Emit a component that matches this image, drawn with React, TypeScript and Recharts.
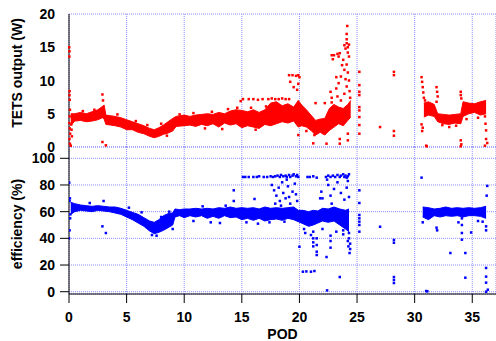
import { ComposedChart, Area, Scatter, XAxis, YAxis, CartesianGrid } from "recharts";

const FONT = "'Liberation Sans', Arial, sans-serif";
const GRID = "#8c8cff";
const RED = "#ff0000";
const BLUE = "#0000ff";

const X_MAX = 37.06;
const xTicks = [0, 5, 10, 15, 20, 25, 30, 35];
const powerTicks = [0, 5, 10, 15, 20];
const effTicks = [0, 20, 40, 60, 80, 100];

// dense bands: [POD, low, high]
const powerBandA: [number, number, number][] = [
  [0.15, 3.2, 5.0], [0.5, 3.9, 5.0], [1.0, 4.0, 5.2], [1.5, 3.8, 5.0], [2.0, 3.9, 5.3],
  [2.5, 4.1, 5.6], [2.9, 4.4, 6.1], [3.05, 4.2, 6.3], [3.2, 3.4, 4.8], [3.6, 3.3, 4.7],
  [4.0, 3.2, 4.6], [4.5, 3.0, 4.4], [5.0, 2.6, 4.1], [5.5, 2.6, 3.8], [6.0, 2.2, 3.5],
  [6.5, 2.0, 3.2], [7.0, 1.6, 2.8], [7.4, 1.4, 2.6], [7.8, 1.6, 2.9], [8.2, 1.9, 3.3],
  [8.6, 2.1, 3.8], [9.0, 2.4, 4.3], [9.3, 3.1, 4.6], [10.0, 3.2, 4.8], [10.5, 3.3, 4.6],
  [11.0, 3.1, 4.8], [11.5, 3.4, 4.9], [12.0, 3.2, 5.0], [12.5, 3.5, 4.9], [13.0, 3.0, 5.2],
  [13.5, 3.6, 5.0], [14.0, 3.3, 5.4], [14.5, 3.5, 5.6], [15.0, 2.9, 5.5], [15.5, 3.2, 5.3],
  [16.0, 3.0, 5.6], [16.5, 2.8, 5.2], [17.0, 3.4, 5.6], [17.5, 3.2, 6.6], [18.0, 3.5, 6.8],
  [18.5, 3.8, 6.2], [19.0, 3.6, 6.5], [19.5, 3.9, 6.0], [19.9, 3.0, 7.0], [20.2, 3.2, 6.3],
  [20.6, 3.0, 5.6], [21.0, 2.5, 4.8], [21.4, 1.8, 4.0], [21.8, 2.2, 4.2], [22.2, 1.8, 4.3],
  [22.6, 2.5, 5.8], [23.0, 3.0, 6.4], [23.4, 3.5, 6.0], [23.8, 3.2, 5.8], [24.2, 4.0, 6.4],
  [24.45, 4.5, 7.0],
];
const powerBandB: [number, number, number][] = [
  [30.8, 4.5, 6.6], [31.2, 4.8, 6.8], [31.7, 4.6, 6.4], [32.0, 3.8, 5.0], [32.5, 3.5, 4.9],
  [33.0, 3.4, 4.8], [33.5, 3.6, 4.9], [34.0, 3.5, 5.0], [34.2, 4.6, 6.8], [34.7, 5.0, 6.6],
  [35.2, 5.2, 6.5], [35.7, 4.8, 6.8], [36.2, 5.0, 7.0],
];
const effBandA: [number, number, number][] = [
  [0.15, 58, 67], [0.5, 60, 66], [1.0, 61, 65], [1.5, 60.5, 64.5], [2.0, 60, 64],
  [2.5, 61, 64.5], [3.0, 60.5, 64], [3.5, 60, 63.5], [4.0, 59, 63.5], [4.5, 58, 62.5],
  [5.0, 56, 61], [5.5, 54, 59.5], [6.0, 51.5, 58], [6.5, 49, 55.5], [7.0, 45.5, 53],
  [7.4, 43.5, 52], [7.8, 44.5, 54], [8.2, 46, 57], [8.6, 48, 58.5], [9.0, 50, 59],
  [9.2, 56, 62], [9.6, 57, 61.5], [10.0, 55.5, 62], [10.5, 57, 62], [11.0, 56, 62.5],
  [11.5, 57, 62], [12.0, 55, 62.5], [12.5, 56.5, 62], [13.0, 55, 63], [13.5, 57, 62.5],
  [14.0, 55.5, 63.5], [14.5, 56, 62.5], [15.0, 54, 63], [15.5, 55, 62.5], [16.0, 53.5, 63],
  [16.5, 55, 62], [17.0, 53, 63.5], [17.5, 54, 62.5], [18.0, 54.5, 63], [18.5, 53.5, 62.5],
  [19.0, 55, 63], [19.5, 54, 63.5], [19.9, 52.5, 61], [20.3, 51, 61], [20.8, 49, 60],
  [21.2, 50, 61], [21.6, 51.5, 60.5], [22.0, 53, 62.5], [22.5, 52, 62], [23.0, 53, 63.5],
  [23.5, 50, 62], [24.0, 47, 61], [24.3, 45, 62],
];
const effBandB: [number, number, number][] = [
  [30.7, 56, 63.5], [31.2, 54, 63], [31.7, 57, 62], [32.2, 56, 62.5], [32.7, 57, 63.5],
  [33.2, 56.5, 62.5], [33.7, 57, 63], [34.2, 56, 62.5], [34.7, 57, 63], [35.2, 57, 62.5],
  [35.7, 56.5, 63], [36.2, 55, 64],
];

// scattered readings: [POD, value]
const powerPoints: [number, number][] = [
  [0.02, 15.0], [0.04, 14.4], [0.03, 13.6], [0.05, 8.4], [0.04, 7.8], [0.06, 7.1], [0.08, 5.6],
  [0.05, 4.6], [0.03, 3.6], [0.06, 2.8], [0.1, 2.0], [0.04, 1.2], [0.08, 0.5], [0.15, 0.2],
  [0.22, 2.6], [0.25, 1.6], [0.2, 3.4],
  [2.9, 7.9], [2.95, 7.0], [2.9, 0.75], [3.2, 0.25],
  [1.2, 5.4], [2.2, 5.6], [4.2, 4.9], [5.8, 3.9], [6.8, 3.3], [8.0, 3.5], [8.5, 1.7], [9.6, 4.9],
  [10.8, 5.1], [11.8, 2.8], [12.4, 5.3], [13.3, 2.7], [13.8, 5.7], [14.6, 5.9], [15.8, 5.9],
  [16.2, 2.6], [17.1, 6.1],
  [14.9, 6.9], [15.1, 7.2], [15.6, 7.2], [16.0, 7.2], [16.4, 7.1], [16.8, 7.2], [17.3, 7.2],
  [17.6, 7.3], [17.9, 7.2], [18.2, 7.2], [18.5, 7.3], [18.8, 7.2], [19.1, 7.2],
  [19.1, 10.8], [19.4, 10.8], [19.7, 10.7], [19.9, 10.8], [20.0, 10.5], [19.2, 9.8], [19.5, 9.0],
  [19.8, 8.6], [19.9, 9.5],
  [19.9, 1.8], [21.2, 0.55], [21.3, 1.8], [20.6, 2.4], [21.0, 2.8], [22.35, 0.5], [23.5, 0.5],
  [23.5, 1.2], [24.2, 2.0], [24.2, 1.0], [21.4, 6.6], [22.2, 6.6], [22.8, 6.7],
  [22.8, 13.8], [22.9, 13.2], [23.0, 13.8], [23.2, 10.5], [22.7, 8.3], [22.8, 7.4], [23.2, 8.8],
  [23.3, 7.6], [23.4, 9.6], [23.6, 10.6], [23.7, 12.3], [23.8, 13.1], [23.9, 11.6], [24.0, 10.2],
  [24.1, 9.1], [24.2, 11.2], [24.1, 12.4], [24.3, 13.6], [24.2, 14.2], [23.3, 14.0], [23.4, 13.6],
  [23.5, 14.1], [23.9, 15.3], [24.0, 14.8], [24.1, 15.6], [24.2, 15.0], [24.3, 15.4], [24.1, 16.2],
  [24.1, 17.0], [24.15, 18.2], [24.3, 10.0], [24.35, 8.4], [24.4, 7.4], [23.6, 7.0], [23.9, 8.0],
  [25.2, 11.3], [25.2, 9.3], [25.2, 8.3], [25.2, 7.8], [25.2, 6.0], [25.2, 5.5], [25.2, 4.5],
  [25.2, 3.3], [25.2, 2.0],
  [27.0, 3.0], [28.2, 11.3], [28.2, 10.8], [28.2, 2.4], [28.2, 1.7],
  [30.6, 10.5], [30.65, 9.8], [30.7, 9.0], [30.75, 8.2], [30.8, 7.4], [30.9, 7.0], [30.6, 3.4],
  [30.7, 2.9], [30.65, 2.4], [31.0, 0.2], [31.05, 0.1],
  [31.9, 9.0], [31.95, 8.3], [32.0, 7.6], [31.9, 6.8],
  [32.4, 3.3], [33.0, 3.0], [33.6, 3.2], [34.5, 4.2], [35.5, 4.4],
  [34.0, 8.3], [34.0, 7.8], [34.05, 7.3], [34.0, 1.0], [34.05, 0.4], [34.0, 0.1],
  [36.1, 4.6], [36.15, 3.5], [36.2, 2.5], [36.2, 1.2], [36.3, 0.6], [36.1, 0.2],
];
const effPoints: [number, number][] = [
  [0.02, 81.7], [0.05, 46], [0.0, 40], [0.08, 70], [0.05, 68], [0.1, 55], [0.12, 58],
  [2.9, 49], [3.2, 44], [9.0, 47], [14.3, 76], [14.3, 68], [15.3, 86],
  [1.8, 66.5], [3.0, 68], [5.2, 63], [6.3, 59.5], [7.2, 42.5], [7.6, 42], [8.0, 56], [8.7, 60],
  [10.8, 53], [11.6, 64], [12.3, 52], [13.1, 51.5], [13.6, 64.5], [15.4, 52], [16.4, 51],
  [17.4, 52], [18.7, 52.5],
  [15.1, 86], [15.6, 86], [16.0, 86], [16.3, 86], [16.5, 86.5], [16.9, 86], [17.2, 86],
  [17.5, 86.5], [17.7, 86], [17.9, 86.5], [18.1, 87], [18.3, 86], [18.4, 87.5], [18.6, 86.5],
  [18.8, 87], [18.9, 86], [19.1, 87.5], [19.2, 86], [19.4, 87], [19.5, 88], [19.7, 86.5],
  [19.8, 87.5], [19.9, 86], [20.7, 86], [20.9, 86], [21.2, 86.5], [21.5, 85.5], [22.3, 86],
  [22.5, 87], [22.7, 86], [22.9, 87], [23.1, 86], [23.3, 87.5], [23.5, 86], [23.6, 87],
  [23.8, 88], [24.0, 87], [24.2, 86.5], [24.3, 88], [24.1, 85.5], [23.9, 86],
  [17.6, 80], [17.8, 76], [18.0, 72], [18.2, 78], [18.3, 68], [18.5, 82], [18.6, 74], [18.8, 70],
  [19.0, 79], [19.2, 66], [19.4, 75], [19.6, 81], [19.8, 68], [18.9, 84], [19.1, 71], [17.9, 66],
  [18.4, 64.5], [19.7, 73], [16.1, 69.5],
  [21.8, 70], [21.9, 75], [22.0, 70], [22.5, 80], [22.7, 72], [22.8, 66], [23.3, 82], [23.6, 74],
  [23.9, 69], [24.1, 78], [24.3, 71], [22.4, 84], [23.0, 77], [24.2, 83],
  [20.0, 33.7], [20.3, 15], [20.6, 15.2], [21.0, 15], [21.3, 15.5], [21.0, 42.5], [21.2, 45],
  [21.2, 40], [21.2, 37], [21.2, 34], [21.5, 40], [21.5, 35], [21.5, 30], [21.5, 27.5],
  [22.35, 26], [22.7, 42], [22.7, 38], [22.7, 33], [23.5, 11], [22.4, 1.0], [23.8, 43],
  [23.8, 46], [24.3, 44], [24.3, 40], [24.4, 36], [24.4, 32], [24.35, 29], [24.2, 38],
  [24.25, 34], [20.4, 47], [20.5, 44], [22.0, 47], [23.2, 45],
  [25.2, 76], [25.2, 66.5], [25.2, 57.5], [25.2, 55], [25.2, 52.5], [25.2, 50], [25.2, 45],
  [27.0, 48.7], [28.2, 38.8], [28.2, 36.7], [28.2, 11], [28.2, 8.8], [28.2, 6.5],
  [30.6, 85.5], [31.0, 0.5], [31.1, 0.3], [31.9, 48], [31.95, 46], [33.1, 29],
  [34.1, 60], [34.1, 55], [34.1, 50], [34.1, 44], [34.1, 39], [34.4, 29], [34.4, 10.5],
  [34.9, 44.4], [36.3, 79.3], [36.25, 72], [36.2, 46], [36.2, 17.8], [36.2, 11.3], [36.2, 6.8],
  [36.2, 0], [36.35, 1.5], [36.2, 49], [33.8, 52], [35.5, 53], [35.9, 52.5], [30.7, 52],
];

function bandRows(a: [number, number, number][], b: [number, number, number][]) {
  const gap = { x: 27.5, band: null as null | number[] };
  return [...a.map(([x, lo, hi]) => ({ x, band: [lo, hi] })), gap, ...b.map(([x, lo, hi]) => ({ x, band: [lo, hi] }))];
}
const toPts = (pts: [number, number][]) => pts.map(([x, y]) => ({ x, y }));

const powerData = bandRows(powerBandA, powerBandB);
const effData = bandRows(effBandA, effBandB);
// anchors for the TETS axis labels, placed on the axis by the chart's own scale
const powerLabelPts = powerTicks.map((v) => ({ x: 0, y: v }));

const dot = (color: string) => (p: any) => (
  <rect x={p.cx - 1.25} y={p.cy - 1.25} width={2.5} height={2.5} fill={color} />
);

const textProps = { fill: "#000", fontSize: 14, fontWeight: "bold", fontFamily: FONT };

const YTick = (p: any) => (
  <text x={p.x} y={p.y} dy="0.36em" textAnchor="end" {...textProps}>{String(p.payload.value)}</text>
);
const XTick = (p: any) => (
  <text x={p.x} y={p.y} dy="0.72em" textAnchor="middle" {...textProps}>{String(p.payload.value)}</text>
);
const AxisLabel = (p: any) => (
  <text x={p.cx - 14} y={p.cy} dy="0.36em" textAnchor="end" {...textProps}>{String(p.payload.y)}</text>
);

const titleStyle = (top: number): React.CSSProperties => ({
  position: "absolute", left: 17, top, transform: "translate(-50%, -50%) rotate(-90deg)",
  whiteSpace: "nowrap", fontSize: 14, fontWeight: "bold", fontFamily: FONT, color: "#000", lineHeight: "16px",
});

export default function App() {
  return (
    <div style={{ position: "absolute", left: 0, top: 0, width: 496, height: 341, background: "#fff", overflow: "hidden" }}>
      <div style={titleStyle(72.5)}>TETS output (W)</div>
      <div style={titleStyle(224)}>efficiency (%)</div>
      <div style={{ position: "absolute", left: 0, top: 140 }}>
        <ComposedChart width={496} height={201} data={effData} margin={{ top: 7, right: 0, bottom: 0, left: 0 }}>
          <CartesianGrid stroke={GRID} strokeDasharray="1 1" />
          <XAxis type="number" dataKey="x" domain={[0, X_MAX]} ticks={xTicks} interval={0} height={47} allowDataOverflow
            axisLine={{ stroke: "#000" }} tickLine={{ stroke: "#000" }} tickSize={9} tickMargin={9} tick={XTick}
            label={{ value: "POD", position: "insideBottom", offset: 2, ...textProps }} />
          <YAxis type="number" domain={[-1.72, 108.47]} ticks={effTicks} interval={0} width={69} allowDataOverflow
            axisLine={{ stroke: "#000" }} tickLine={{ stroke: "#000" }} tickSize={9} tickMargin={5} tick={YTick} />
          <Area type="linear" dataKey="band" stroke={BLUE} strokeWidth={1} fill={BLUE} fillOpacity={1}
            isAnimationActive={false} connectNulls={false} dot={false} activeDot={false} />
          <Scatter data={toPts(effPoints)} dataKey="y" fill={BLUE} shape={dot(BLUE)} isAnimationActive={false} />
        </ComposedChart>
      </div>
      <div style={{ position: "absolute", left: 0, top: 0 }}>
        <ComposedChart width={496} height={160} data={powerData} margin={{ top: 14, right: 0, bottom: 13, left: 0 }}
          style={{ overflow: "visible" }}>
          <CartesianGrid stroke={GRID} strokeDasharray="1 1" />
          <XAxis type="number" dataKey="x" domain={[0, X_MAX]} ticks={xTicks} interval={0} hide />
          <YAxis type="number" domain={[0, 20]} ticks={powerTicks} interval={0} width={69}
            axisLine={{ stroke: "#000" }} tickLine={{ stroke: "#000" }} tickSize={9} tickMargin={5} tick={false} />
          <Area type="linear" dataKey="band" stroke={RED} strokeWidth={1} fill={RED} fillOpacity={1}
            isAnimationActive={false} connectNulls={false} dot={false} activeDot={false} />
          <Scatter data={toPts(powerPoints)} dataKey="y" fill={RED} shape={dot(RED)} isAnimationActive={false} />
          <Scatter data={powerLabelPts} dataKey="y" fill="#000" shape={AxisLabel} isAnimationActive={false} legendType="none" />
        </ComposedChart>
      </div>
    </div>
  );
}
